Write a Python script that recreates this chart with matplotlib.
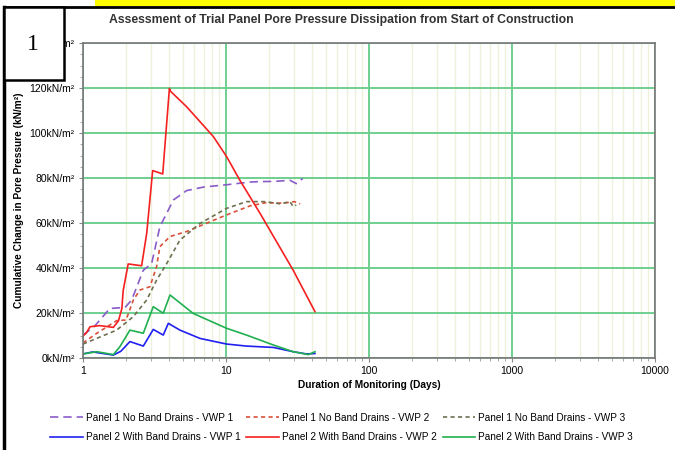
import matplotlib
matplotlib.use("Agg")
import matplotlib.pyplot as plt
from matplotlib.ticker import FixedLocator, LogLocator, NullFormatter, FuncFormatter
from matplotlib.patches import Rectangle
from matplotlib.lines import Line2D

plt.rcParams["font.family"] = ["Liberation Sans", "DejaVu Sans"]

# days since start of construction / cumulative change in pore pressure (kN/m2)
p1_vwp1_days = [1.0, 1.2, 1.54, 1.97, 2.19, 2.64, 3.02, 3.45, 3.85, 4.28, 5.3, 7.0, 10.1, 14.7, 17.3, 22.0, 28.0, 31.0, 34.4]
p1_vwp1_kpa = [10.2, 14.0, 22.0, 22.5, 25.8, 39.0, 42.0, 58.4, 64.3, 70.2, 74.4, 76.0, 77.0, 78.2, 78.4, 78.5, 79.0, 77.5, 79.8]

p1_vwp2_days = [1.0, 1.25, 1.72, 2.0, 2.25, 2.5, 2.94, 3.27, 3.45, 4.06, 5.3, 7.3, 10.1, 14.7, 18.9, 25.0, 30.0, 33.0]
p1_vwp2_kpa = [6.7, 11.0, 16.6, 16.9, 25.8, 30.2, 31.7, 40.6, 49.5, 54.0, 56.2, 59.9, 63.6, 67.6, 69.0, 68.8, 69.5, 68.5]

p1_vwp3_days = [1.0, 1.72, 2.25, 2.79, 3.27, 3.85, 4.76, 6.58, 10.1, 13.9, 18.9, 24.0, 28.0, 29.5, 31.0]
p1_vwp3_kpa = [6.2, 12.4, 18.4, 25.8, 34.6, 42.0, 52.4, 59.8, 66.5, 69.5, 69.5, 68.5, 69.5, 67.3, 68.0]

p2_vwp1_days = [1.0, 1.17, 1.63, 1.84, 2.13, 2.64, 3.1, 3.64, 3.95, 4.76, 6.58, 10.1, 13.9, 21.4, 29.5, 36.6, 41.9]
p2_vwp1_kpa = [1.8, 2.7, 1.3, 3.0, 7.3, 5.3, 12.7, 10.2, 15.4, 12.4, 8.7, 6.2, 5.3, 4.7, 2.8, 1.8, 2.0]

p2_vwp2_days = [1.0, 1.05, 1.12, 1.31, 1.63, 1.77, 1.87, 1.91, 2.07, 2.57, 2.79, 3.07, 3.61, 4.02, 4.1, 5.3, 8.16, 10.1, 12.5, 17.3, 29.5, 41.9]
p2_vwp2_kpa = [9.8, 11.0, 13.9, 14.4, 13.6, 16.5, 22.0, 30.0, 41.8, 41.0, 55.5, 83.3, 81.8, 119.8, 118.5, 111.7, 98.4, 89.5, 79.0, 64.3, 39.0, 20.6]

p2_vwp3_days = [1.0, 1.25, 1.63, 1.81, 2.13, 2.64, 3.1, 3.64, 4.06, 5.9, 10.1, 13.9, 21.4, 29.5, 37.7, 41.9]
p2_vwp3_kpa = [1.8, 2.8, 1.5, 5.0, 12.4, 11.0, 22.8, 19.9, 28.0, 19.8, 13.2, 10.2, 5.8, 2.8, 1.5, 2.8]

series = [
    ("Panel 1 No Band Drains - VWP 1", p1_vwp1_days, p1_vwp1_kpa, "#8a5cc8", (0, (5, 3))),
    ("Panel 1 No Band Drains - VWP 2", p1_vwp2_days, p1_vwp2_kpa, "#d9503a", (0, (2.5, 2))),
    ("Panel 1 No Band Drains - VWP 3", p1_vwp3_days, p1_vwp3_kpa, "#6f6f50", (0, (2.5, 2))),
    ("Panel 2 With Band Drains - VWP 1", p2_vwp1_days, p2_vwp1_kpa, "#2020f0", "-"),
    ("Panel 2 With Band Drains - VWP 2", p2_vwp2_days, p2_vwp2_kpa, "#f52020", "-"),
    ("Panel 2 With Band Drains - VWP 3", p2_vwp3_days, p2_vwp3_kpa, "#20b050", "-"),
]

y_ticks = [0, 20, 40, 60, 80, 100, 120, 140]
x_ticks = [1, 10, 100, 1000, 10000]

fig = plt.figure(figsize=(6.75, 4.5), dpi=100)
ax = fig.add_axes([83 / 675, 1 - 358 / 450, (655 - 83) / 675, (358 - 43) / 450])

for label, days, kpa, color, style in series:
    ax.plot(days, kpa, color=color, linestyle=style, linewidth=1.2, label=label)

ax.set_xscale("log")
ax.set_xlim(1, 10000)
ax.set_ylim(0, 140)
ax.xaxis.set_major_locator(FixedLocator(x_ticks))
ax.xaxis.set_major_formatter(FuncFormatter(lambda v, p: f"{v:g}"))
ax.xaxis.set_minor_locator(LogLocator(base=10, subs=range(2, 10)))
ax.xaxis.set_minor_formatter(NullFormatter())
ax.yaxis.set_major_locator(FixedLocator(y_ticks))
ax.yaxis.set_minor_locator(FixedLocator(range(0, 141, 5)))
ax.yaxis.set_major_formatter(FuncFormatter(lambda v, p: f"{v:g}kN/m\u00b2"))

ax.grid(True, which="major", color="#6fcf8f", linewidth=1.4)
ax.grid(True, which="minor", axis="x", color="#eef2dc", linewidth=1.0)
ax.set_axisbelow(True)
ax.tick_params(axis="both", which="major", labelsize=7.5, length=3, color="#888888", pad=3)
ax.tick_params(axis="both", which="minor", length=2, color="#999999")
for sp in ax.spines.values():
    sp.set_color("#777777")
    sp.set_linewidth(1.2)

ax.set_xlabel("Duration of Monitoring (Days)", fontsize=7.3, fontweight="bold", labelpad=3)
ax.set_ylabel("Cumulative Change in Pore Pressure (kN/m\u00b2)", fontsize=7.3, fontweight="bold", labelpad=4)
fig.text(341 / 675, 1 - 20 / 450, "Assessment of Trial Panel Pore Pressure Dissipation from Start of Construction",
         ha="center", va="center", fontsize=8.8, fontweight="bold", color="#333333")

# legend is read row by row in the reference, matplotlib fills columns first
handles, labels = ax.get_legend_handles_labels()
order = [0, 3, 1, 4, 2, 5]
fig.legend([handles[i] for i in order], [labels[i] for i in order], loc="center left",
           bbox_to_anchor=(45 / 675, 1 - 427.5 / 450), ncol=3, fontsize=7.2, frameon=False,
           borderpad=0, handlelength=3.25, handletextpad=0.3, columnspacing=0.6, labelspacing=0.95)

# page decorations: yellow band, black rules and the numbered box
fig.patches.append(Rectangle((95 / 675, 1 - 6 / 450), 1, 6 / 450, transform=fig.transFigure,
                             facecolor="#ffff00", edgecolor="none"))
fig.lines.append(Line2D([4 / 675, 1], [1 - 7 / 450] * 2, transform=fig.transFigure, color="black", linewidth=2))
fig.lines.append(Line2D([4 / 675] * 2, [0, 1 - 7 / 450], transform=fig.transFigure, color="black", linewidth=2.5))
fig.patches.append(Rectangle((4 / 675, 1 - 80 / 450), 60 / 675, 73 / 450, transform=fig.transFigure,
                             facecolor="white", edgecolor="black", linewidth=1.8, zorder=5))
fig.text(33 / 675, 1 - 45 / 450, "1", ha="center", va="center", fontsize=17,
         family="Liberation Serif", zorder=6)

fig.savefig("out.png", dpi=100)
